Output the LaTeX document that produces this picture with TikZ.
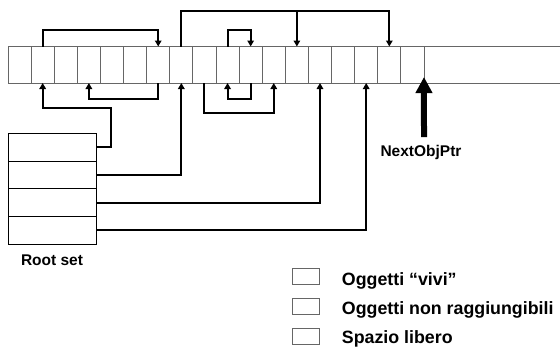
\documentclass[tikz,border=0pt]{standalone}
\usepackage{fontspec}
\setmainfont{Liberation Sans}
\usetikzlibrary{arrows.meta,positioning}
\definecolor{cellgray}{gray}{0.4}
\tikzset{
  cellbox/.style={draw=cellgray,line width=0.9pt,minimum width=23.11pt,minimum height=36.5pt,inner sep=0pt,outer sep=0pt,anchor=west},
  rootbox/.style={draw=black,line width=0.9pt,minimum width=88.4pt,minimum height=27.7pt,inner sep=0pt,outer sep=0pt},
  legbox/.style={draw=cellgray,line width=0.9pt,minimum width=27pt,minimum height=15.7pt,inner sep=0pt,outer sep=0pt},
  conn/.style={draw=black,line width=2pt,-{Triangle[length=6pt 0,width=6.5pt 0]}},
  lbl/.style={font=\bfseries\fontsize{15.5}{18}\selectfont,inner sep=0pt,anchor=base},
  legtxt/.style={font=\bfseries\fontsize{17.8}{20}\selectfont,inner sep=0pt,anchor=base west}
}
\begin{document}
\begin{tikzpicture}[x=1pt,y=-1pt]
\useasboundingbox (0,0) rectangle (560,349);
% strip
\foreach \i in {0,...,17}{
  \node[cellbox] (c\i) at ({8+23.11*\i},64.75) {};
}
\coordinate (sE) at (560,46.5);
\coordinate (sF) at (560,83);
\draw[cellgray,line width=0.9pt] (c17.north east) -- (sE);
\draw[cellgray,line width=0.9pt] (c17.south east) -- (sF);
% root set
\node[rootbox] (r1) at (52.5,147.15) {};
\node[rootbox,below=0pt of r1] (r2) {};
\node[rootbox,below=0pt of r2] (r3) {};
\node[rootbox,below=0pt of r3] (r4) {};
\node[lbl] (rs) at (52,265) {Root set};
% top connectors
\draw[conn] (c1.north) -- (c1.north|-0,30) -| (c6.north);
\draw[conn] (c7.north) -- (c7.north|-0,11) -| (c16.north);
\draw[conn] (c12.north|-0,11) -- (c12.north);
\draw[conn] (c9.north) -- (c9.north|-0,30) -| (c10.north);
% bottom connectors
\draw[conn] (r1.east) -| (111,108.3) -| (c1.south);
\draw[conn] (c6.south) -- (c6.south|-0,99) -| (c3.south);
\draw[conn] (r2.east) -| (c7.south);
\draw[conn] (c8.south) -- (c8.south|-0,112.7) -| (c11.south);
\draw[conn] (c10.south) -- (c10.south|-0,99) -| (c9.south);
\draw[conn] (r3.east) -| (c13.south);
\draw[conn] (r4.east) -| (c15.south);
% NextObjPtr
\coordinate (nopT) at (c17.south east);
\coordinate (nopB) at (424,137);
\draw[line width=6pt,-{Triangle[length=16pt 0,width=16pt 0]}] (nopB) -- ([yshift=6pt]nopT);
\node[lbl] (nop) at (421,156) {NextObjPtr};
% legend
\node[legbox] (l1) at (306.3,276.2) {};
\node[legbox] (l2) at (306.3,306.5) {};
\node[legbox] (l3) at (306.3,336.2) {};
\node[legtxt] (t1) at (341.7,285) {Oggetti “vivi”};
\node[legtxt] (t2) at (341.7,314.3) {Oggetti non raggiungibili};
\node[legtxt] (t3) at (341.7,343.3) {Spazio libero};
\end{tikzpicture}
\end{document}
